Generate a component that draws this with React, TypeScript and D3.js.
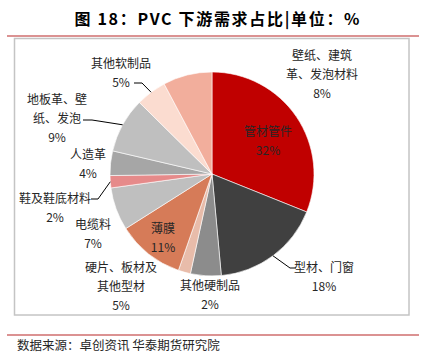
import React from 'react';
import * as d3 from 'd3';

const categories = ['管材管件', '型材、门窗', '硬片、板材及其他型材', '其他硬制品', '薄膜', '电缆料', '鞋及鞋底材料', '人造革', '地板革、壁纸、发泡', '其他软制品', '壁纸、建筑革、发泡材料'];
const values = [32, 18, 5, 2, 11, 7, 2, 4, 9, 5, 8];
const colors = ['#c00000', '#404040', '#8c8c8c', '#e8bcaa', '#d67b58', '#bfbfbf', '#e68a8a', '#a6a6a6', '#bfbfbf', '#fbdcd0', '#f2ae9c'];

// label layout: text lines (category split), center x, first line y, leader bend points
const labelLines = [
  ['管材管件'],
  ['型材、门窗'],
  ['硬片、板材及', '其他型材'],
  ['其他硬制品'],
  ['薄膜'],
  ['电缆料'],
  ['鞋及鞋底材料'],
  ['人造革'],
  ['地板革、壁', '纸、发泡'],
  ['其他软制品'],
  ['壁纸、建筑', '革、发泡材料'],
];
const labelPos: [number, number][] = [
  [268, 130], [324, 266], [121, 266], [210, 284], [163, 227], [93, 223],
  [55, 197], [88, 153], [57, 98], [121, 62], [322, 54],
];
const leaders: ([number, number][] | null)[] = [
  null, [[290, 268], [296, 268]], null, null, null, null,
  [[98, 199], [91, 199]], null, [[92, 120], [83, 120]], [[142, 83], [134, 83]], null,
];

const W = 434, H = 363;
const cx = 212, cy = 174, R = 102;
const LH = 19;

export default function App() {
  const pie = d3.pie<number>().sort(null).value((d) => d)(values);
  const arc = d3.arc<d3.PieArcDatum<number>>().innerRadius(0).outerRadius(R);
  const font = '"Noto Sans CJK SC", "Noto Sans", sans-serif';
  return (
    <svg width={W} height={H} style={{ position: 'absolute', left: 0, top: 0, background: '#fff' }} fontFamily={font}>
      <text x={217} y={18} textAnchor="middle" dominantBaseline="central" fontSize={16} fontWeight="bold" fill="#000" textLength={285} lengthAdjust="spacing">图 18：PVC 下游需求占比|单位：%</text>
      <line x1={7} x2={419} y1={36} y2={36} stroke="#cf6e6e" strokeWidth={1.5} />
      <rect x={14.5} y={38.5} width={394.5} height={276.5} fill="none" stroke="#c4c4c4" strokeWidth={1.5} />
      <g transform={`translate(${cx},${cy})`}>
        {pie.map((p, i) => (
          <path key={i} d={arc(p) || ''} fill={colors[i]} stroke="#fff" strokeWidth={0.6} />
        ))}
      </g>
      {pie.map((p, i) => {
        const lp = leaders[i];
        if (!lp) return null;
        const mid = (p.startAngle + p.endAngle) / 2;
        const ex = cx + R * Math.sin(mid);
        const ey = cy - R * Math.cos(mid);
        const pts = [[ex, ey], ...lp];
        return <polyline key={'l' + i} points={pts.map((q) => q.join(',')).join(' ')} fill="none" stroke="#000" strokeWidth={1} />;
      })}
      {labelLines.map((lines, i) => {
        const [x, y] = labelPos[i];
        const all = [...lines, `${values[i]}%`];
        return (
          <g key={'t' + i}>
            {all.map((t, j) => (
              <text key={j} x={x} y={y + j * LH} textAnchor="middle" dominantBaseline="central" fontSize={12} fill="#262626">{t}</text>
            ))}
          </g>
        );
      })}
      <line x1={7} x2={419} y1={335} y2={335} stroke="#cf6e6e" strokeWidth={1.5} />
      <text x={17} y={344} dominantBaseline="central" fontSize={12.5} fill="#262626">数据来源：卓创资讯 华泰期货研究院</text>
    </svg>
  );
}
